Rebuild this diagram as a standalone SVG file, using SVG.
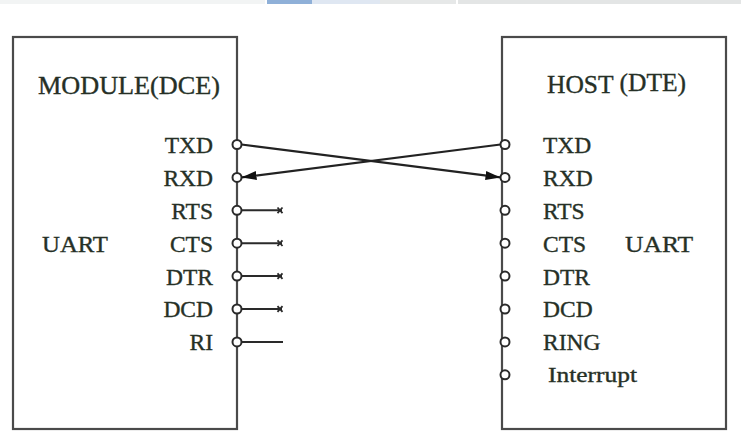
<svg xmlns="http://www.w3.org/2000/svg" width="741" height="431" viewBox="0 0 741 431">
<defs>
<style>
.box{fill:#fff;stroke:#4a4a4a;stroke-width:2.2}
.pin{fill:#fff;stroke:#2a2a2a;stroke-width:2}
.t{font-family:"Liberation Serif","Times New Roman",serif;fill:#263026;stroke:#263026;stroke-width:0.35}
.lbl{font-size:23.5px}
.ttl{font-size:25.5px}
.wire{stroke:#222;stroke-width:2.2;fill:none}
.stub{stroke:#2a2a2a;stroke-width:2;fill:none}
.xm{stroke:#2a2a2a;stroke-width:1.8}
</style>
<marker id="ah" viewBox="0 0 15 9" refX="15" refY="4.5" markerWidth="15" markerHeight="9" markerUnits="userSpaceOnUse" orient="auto">
<path d="M0,0 L15,4.5 L0,9 Z" fill="#111"/>
</marker>
</defs>
<rect width="741" height="431" fill="#fff"/>
<g id="banner">
<rect x="0" y="0" width="265" height="4" fill="#f2f4f4"/>
<rect x="267" y="0" width="45" height="4" fill="#8fb0d8"/>
<rect x="312" y="0" width="68" height="4" fill="#dfe7f2"/>
<rect x="380" y="0" width="76" height="4" fill="#e6e8e8"/>
<rect x="458" y="0" width="283" height="4" fill="#e3e5e5"/>
</g>
<g id="module">
<rect class="box" x="13" y="37" width="224" height="392"/>
<text class="t ttl" x="38" y="94" textLength="182" lengthAdjust="spacingAndGlyphs">MODULE(DCE)</text>
<text class="t lbl" x="42" y="252" textLength="66" lengthAdjust="spacingAndGlyphs">UART</text>
<g class="t lbl" text-anchor="end">
<text x="213" y="152.5">TXD</text>
<text x="213" y="185.5">RXD</text>
<text x="213" y="218.5">RTS</text>
<text x="213" y="251.5">CTS</text>
<text x="213" y="284.5">DTR</text>
<text x="213" y="317">DCD</text>
<text x="213" y="350">RI</text>
</g>
<g class="pin">
<circle cx="237" cy="144.5" r="4.5"/>
<circle cx="237" cy="177.4" r="4.5"/>
<circle cx="237" cy="210.3" r="4.5"/>
<circle cx="237" cy="243.2" r="4.5"/>
<circle cx="237" cy="276.1" r="4.5"/>
<circle cx="237" cy="309" r="4.5"/>
<circle cx="237" cy="341.9" r="4.5"/>
</g>
</g>
<g id="host">
<rect class="box" x="502" y="37" width="224" height="392"/>
<text class="t ttl" x="547" y="93">HOST <tspan dy="-2">(DTE)</tspan></text>
<text class="t lbl" x="625" y="252" textLength="68" lengthAdjust="spacingAndGlyphs">UART</text>
<g class="t lbl">
<text x="543" y="152.5">TXD</text>
<text x="543" y="185.5">RXD</text>
<text x="543" y="218.5">RTS</text>
<text x="543" y="251.5">CTS</text>
<text x="543" y="284.5">DTR</text>
<text x="543" y="317">DCD</text>
<text x="543" y="350">RING</text>
<text x="548" y="382" font-size="21" textLength="89" lengthAdjust="spacingAndGlyphs">Interrupt</text>
</g>
<g class="pin">
<circle cx="505" cy="144.5" r="4.5"/>
<circle cx="505" cy="177.4" r="4.5"/>
<circle cx="505" cy="210.3" r="4.5"/>
<circle cx="505" cy="243.2" r="4.5"/>
<circle cx="505" cy="276.1" r="4.5"/>
<circle cx="505" cy="309" r="4.5"/>
<circle cx="505" cy="341.9" r="4.5"/>
<circle cx="505" cy="374.8" r="4.5"/>
</g>
</g>
<g id="connectors">
<line class="wire" x1="241.5" y1="144.5" x2="500.5" y2="177.4" marker-end="url(#ah)"/>
<line class="wire" x1="500.5" y1="144.5" x2="241.5" y2="177.4" marker-end="url(#ah)"/>
<line class="stub" x1="241.5" y1="210.3" x2="282" y2="210.3"/>
<line class="stub" x1="241.5" y1="243.2" x2="282" y2="243.2"/>
<line class="stub" x1="241.5" y1="276.1" x2="282" y2="276.1"/>
<line class="stub" x1="241.5" y1="309" x2="282" y2="309"/>
<line class="stub" x1="241.5" y1="341.9" x2="283" y2="341.9" stroke="#666"/>
<g class="xm">
<path d="M277.5,207.5 l5,5.6 M282.5,207.5 l-5,5.6"/>
<path d="M277.5,240.4 l5,5.6 M282.5,240.4 l-5,5.6"/>
<path d="M277.5,273.3 l5,5.6 M282.5,273.3 l-5,5.6"/>
<path d="M277.5,306.2 l5,5.6 M282.5,306.2 l-5,5.6"/>
</g>
</g>
</svg>
